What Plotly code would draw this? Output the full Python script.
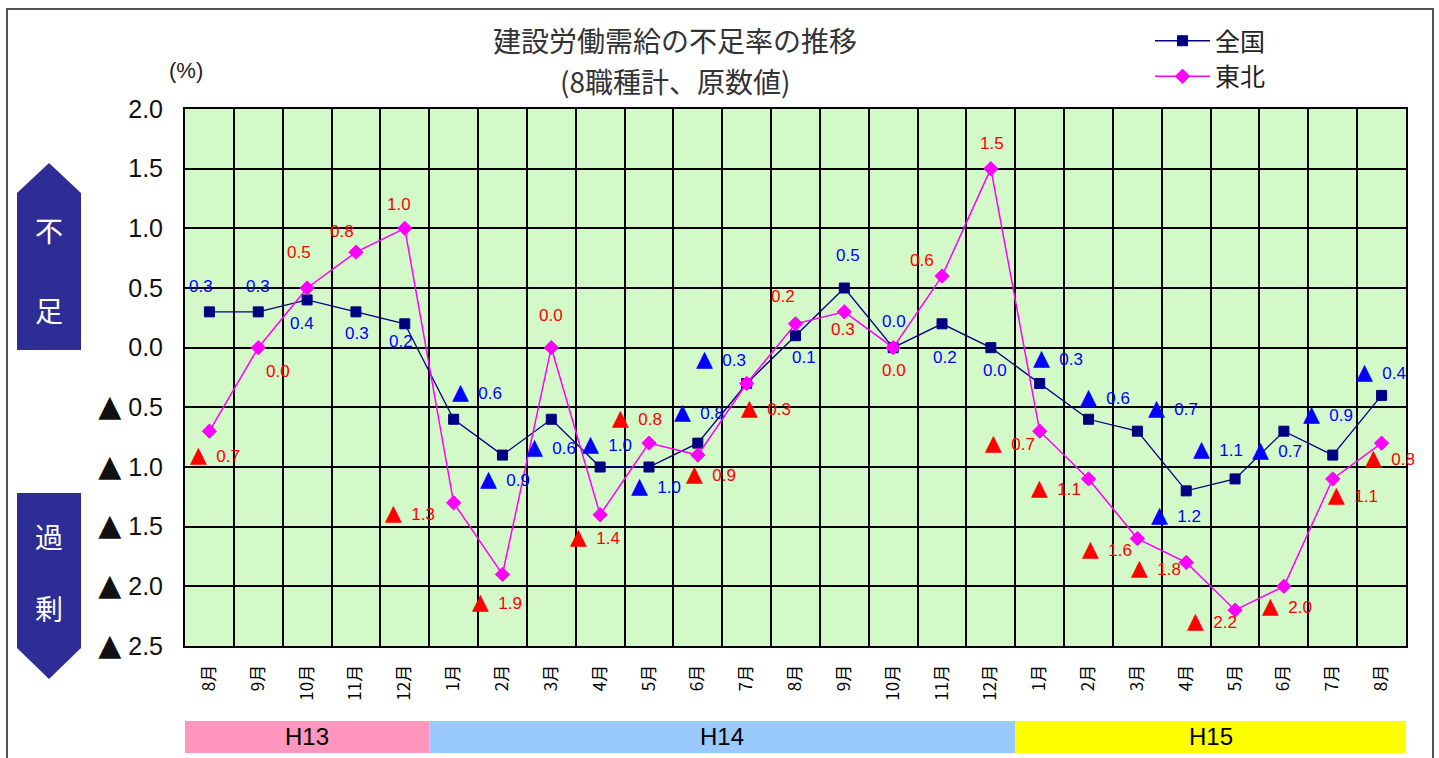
import plotly.graph_objects as go

# ---- data -------------------------------------------------------------
months = ["8月", "9月", "10月", "11月", "12月",
          "1月", "2月", "3月", "4月", "5月", "6月", "7月", "8月", "9月", "10月", "11月", "12月",
          "1月", "2月", "3月", "4月", "5月", "6月", "7月", "8月"]

zenkoku = [0.3, 0.3, 0.4, 0.3, 0.2,
           -0.6, -0.9, -0.6, -1.0, -1.0, -0.8, -0.3, 0.1, 0.5, 0.0, 0.2, 0.0,
           -0.3, -0.6, -0.7, -1.2, -1.1, -0.7, -0.9, -0.4]

tohoku = [-0.7, 0.0, 0.5, 0.8, 1.0,
          -1.3, -1.9, 0.0, -1.4, -0.8, -0.9, -0.3, 0.2, 0.3, 0.0, 0.6, 1.5,
          -0.7, -1.1, -1.6, -1.8, -2.2, -2.0, -1.1, -0.8]

y_tick_vals = [2.0, 1.5, 1.0, 0.5, 0.0, -0.5, -1.0, -1.5, -2.0, -2.5]
y_tick_nums = ["2.0", "1.5", "1.0", "0.5", "0.0", "0.5", "1.0", "1.5", "2.0", "2.5"]

periods = ["H13", "H14", "H15"]
period_lengths = [5, 12, 8]

# ---- label placement (pixel offsets from each point: dx right, dy down) ----
zenkoku_lbl_dx = [-8, 0, -5, 1, -4, 5, -15, -18, -11, -11, -17, -44, 8, 4, 1, 3, 4,
                  0, -2, 18, -28, -35, -25, -23, -19]
zenkoku_lbl_dy = [-25, -25, 24, 22, 18, -28, 23, 27, -24, 18, -32, -25, 22, -33, -26, 34, 23,
                  -26, -23, -24, 24, -30, 18, -42, -24]
tohoku_lbl_dx = [-12, 20, -8, -14, -6, -62, -23, 0, -23, -30, -5, 1, -13, -1, 1, -20, 1,
                 -48, -51, -48, -48, -41, -15, 2, -10]
tohoku_lbl_dy = [23, 24, -36, -21, -24, 10, 27, -32, 22, -26, 18, 24, -27, 18, 23, -16, -25,
                 11, 9, 10, 5, 10, 19, 16, 14]

# ---- geometry -----------------------------------------------------------
W, H = 1439, 758
ML, MR, MT, MB = 185, 33, 109, 112
PW, PH = W - ML - MR, H - MT - MB


def xp(px):
    return (px - ML) / PW


def yp(py):
    return (H - MB - py) / PH


NAVY = "#000080"
MAGENTA = "#ff00ff"
LBL_BLUE = "#0000ff"
LBL_RED = "#ff0000"
FONT = "Liberation Sans, Arial, sans-serif"
JFONT = "Noto Sans CJK JP, sans-serif"


def tri(size):
    return "<span style='font-family:DejaVu Sans;font-size:%dpx'>▲</span>" % size


y_tick_text = [(tri(30) + "\u00a0" + s) if v < 0 else s
               for v, s in zip(y_tick_vals, y_tick_nums)]

xs = list(range(len(months)))

fig = go.Figure()
fig.add_trace(go.Scatter(
    x=xs, y=zenkoku, name="全国", mode="lines+markers",
    line=dict(color=NAVY, width=1.3),
    marker=dict(symbol="square", size=10, color=NAVY, line=dict(color=NAVY, width=1)),
))
fig.add_trace(go.Scatter(
    x=xs, y=tohoku, name="東北", mode="lines+markers",
    line=dict(color=MAGENTA, width=1.5),
    marker=dict(symbol="diamond", size=11, color=MAGENTA, line=dict(color=MAGENTA, width=1)),
))

annotations = []


def value_label(v):
    if v < 0:
        return tri(22) + "\u00a0\u00a0%.1f" % abs(v)
    return "%.1f" % v


def add_labels(values, dxs, dys, color):
    for i, v in enumerate(values):
        neg = v < 0
        annotations.append(dict(
            x=i, y=v, xref="x", yref="y", text=value_label(v), showarrow=False,
            xanchor="left" if neg else "center", yanchor="middle",
            xshift=(dxs[i] - 9) if neg else dxs[i], yshift=-dys[i],
            font=dict(family=FONT, size=17, color=color),
        ))


add_labels(zenkoku, zenkoku_lbl_dx, zenkoku_lbl_dy, LBL_BLUE)
add_labels(tohoku, tohoku_lbl_dx, tohoku_lbl_dy, LBL_RED)

# title (two lines)
for line, py in [("建設労働需給の不足率の推移", 40), ("(8職種計、原数値)", 81)]:
    annotations.append(dict(
        x=xp(675), y=yp(py), xref="paper", yref="paper", showarrow=False,
        text=line, font=dict(family=JFONT, size=28, color="#333333"),
        xanchor="center", yanchor="middle"))
# unit
annotations.append(dict(
    x=xp(186), y=yp(70), xref="paper", yref="paper", showarrow=False,
    text="(%)", font=dict(family=FONT, size=22, color="#222222"),
    xanchor="center", yanchor="middle"))

shapes = []

# outer frame
shapes.append(dict(type="rect", xref="paper", yref="paper",
                   x0=xp(7), x1=xp(1433), y0=yp(800), y1=yp(9),
                   line=dict(color="#555555", width=2), fillcolor="rgba(0,0,0,0)", layer="below"))

# side arrows: shortage (up) and surplus (down)
ARROW = "#2d2d95"


def path_from(points):
    return "M " + " L ".join("%f,%f" % (xp(a), yp(b)) for a, b in points) + " Z"


shapes.append(dict(type="path", xref="paper", yref="paper",
                   path=path_from([(17, 350), (17, 193), (49, 163), (81, 193), (81, 350)]),
                   fillcolor=ARROW, line=dict(width=0)))
shapes.append(dict(type="path", xref="paper", yref="paper",
                   path=path_from([(17, 493), (81, 493), (81, 648), (49, 679), (17, 648)]),
                   fillcolor=ARROW, line=dict(width=0)))
for ch, py in [("不", 230), ("足", 310), ("過", 536), ("剰", 608)]:
    annotations.append(dict(
        x=xp(49), y=yp(py), xref="paper", yref="paper", showarrow=False,
        text=ch, font=dict(family=JFONT, size=28, color="white"),
        xanchor="center", yanchor="middle"))

# fiscal-year bands under the month labels
band_colors = ["#ff96be", "#99c9ff", "#ffff00"]
start = -0.5
for name, n, col in zip(periods, period_lengths, band_colors):
    x0 = start - (0.07 if start < 0 else 0)
    x1 = start + n
    shapes.append(dict(type="rect", xref="x", yref="paper",
                       x0=x0, x1=x1, y0=yp(753), y1=yp(721),
                       fillcolor=col, line=dict(width=0)))
    annotations.append(dict(
        x=(start + x1) / 2, y=yp(737), xref="x", yref="paper", showarrow=False,
        text=name, font=dict(family=FONT, size=24, color="black"),
        xanchor="center", yanchor="middle"))
    start = x1

fig.update_layout(
    width=W, height=H,
    margin=dict(l=ML, r=MR, t=MT, b=MB, pad=0),
    paper_bgcolor="white",
    plot_bgcolor="#d4f9c8",
    showlegend=True,
    legend=dict(x=xp(1150), y=yp(18), xanchor="left", yanchor="top",
                font=dict(family=JFONT, size=25, color="#222222"),
                itemwidth=55,
                bgcolor="rgba(0,0,0,0)", borderwidth=0, tracegroupgap=4),
    annotations=annotations,
    shapes=shapes,
    xaxis=dict(
        range=[-0.5, len(months) - 0.5],
        tickmode="array", tickvals=xs, ticktext=months,
        tickangle=-90, ticks="", showgrid=False, zeroline=False,
        tickfont=dict(family=JFONT, size=17, color="black"),
        ticklabelstandoff=10,
        showline=True, linecolor="black", linewidth=2, mirror=True,
        minor=dict(tick0=0.5, dtick=1, showgrid=True, gridcolor="black", gridwidth=1.5, ticks=""),
    ),
    yaxis=dict(
        range=[-2.5, 2.0],
        tickmode="array", tickvals=y_tick_vals, ticktext=y_tick_text,
        showgrid=True, gridcolor="black", gridwidth=1.5, zeroline=False,
        ticks="", tickfont=dict(family=FONT, size=25, color="#111111"),
        ticklabelstandoff=15,
        showline=True, linecolor="black", linewidth=2, mirror=True,
    ),
)

fig.write_html("out.html")
